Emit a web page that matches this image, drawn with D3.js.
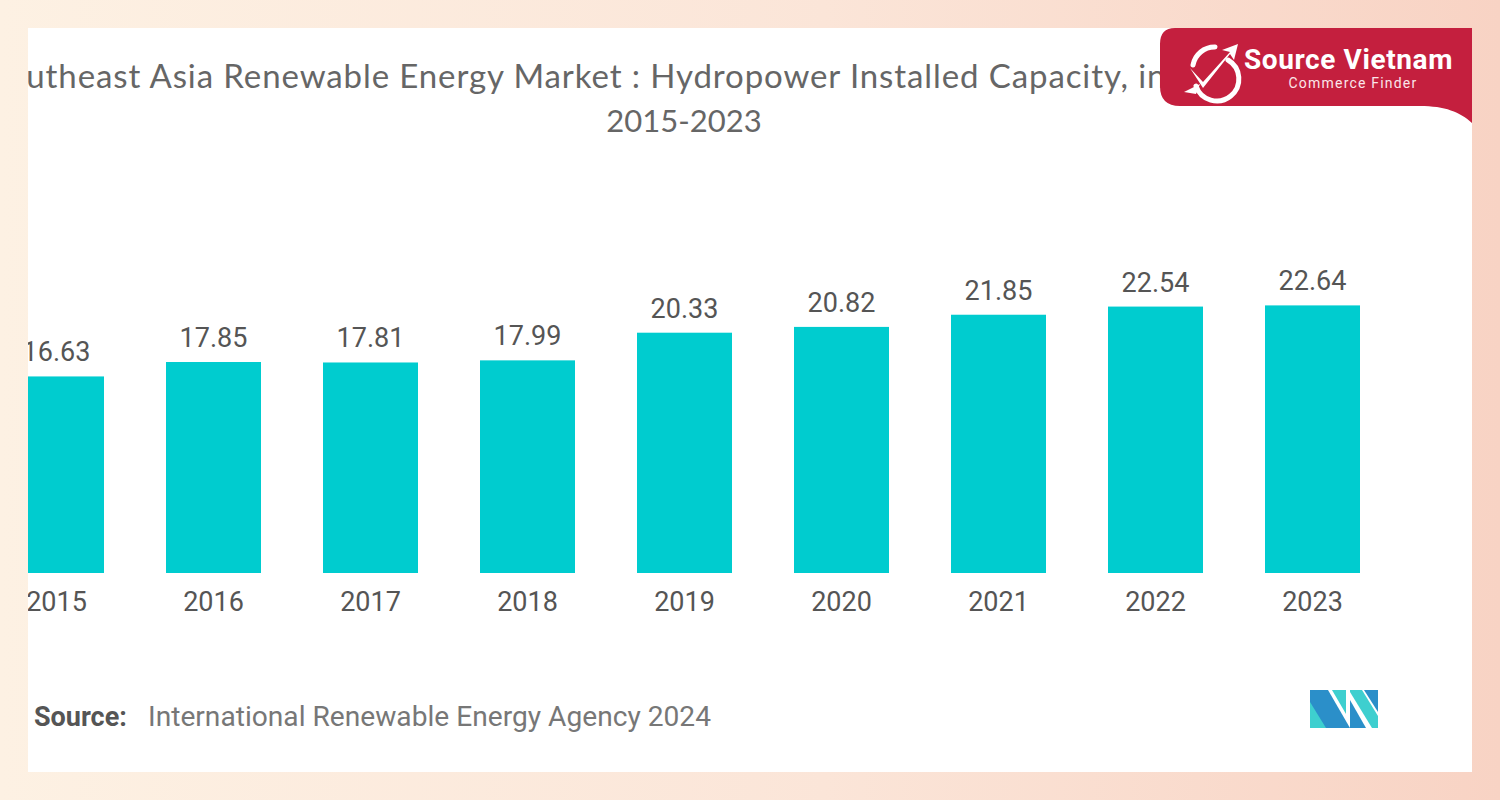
<!DOCTYPE html>
<html><head><meta charset="utf-8">
<script src="https://cdn.jsdelivr.net/npm/d3@7"></script>
<style>html,body{margin:0;padding:0;overflow:hidden;}</style>
</head><body>
<svg id="c" width="1500" height="800"></svg>
<script>
const years = ["2015","2016","2017","2018","2019","2020","2021","2022","2023"];
const capacity = [16.63,17.85,17.81,17.99,20.33,20.82,21.85,22.54,22.64];
const titleLine1 = "Southeast Asia Renewable Energy Market : Hydropower Installed Capacity, in GW,";
const titleLine2 = "2015-2023";
const sourceLabel = "Source:";
const sourceText = "International Renewable Energy Agency 2024";

const svg = d3.select("#c");
const defs = svg.append("defs");
const bg = defs.append("linearGradient").attr("id","bg").attr("x1","0").attr("x2","1").attr("y1","0").attr("y2","0");
bg.append("stop").attr("offset","0").attr("stop-color","#fdf1e3");
bg.append("stop").attr("offset","0.55").attr("stop-color","#fbe5d8");
bg.append("stop").attr("offset","1").attr("stop-color","#f8d3c4");
defs.append("clipPath").attr("id","card").append("rect").attr("x",28).attr("y",28).attr("width",1444).attr("height",744);

svg.append("rect").attr("width",1500).attr("height",800).attr("fill","url(#bg)");
svg.append("rect").attr("x",28).attr("y",28).attr("width",1444).attr("height",744).attr("fill","#ffffff");

const g = svg.append("g").attr("clip-path","url(#card)");

// title
g.append("text").attr("x",-12).attr("y",88).attr("font-family","Lato, 'Open Sans', sans-serif")
  .attr("font-size",33).attr("letter-spacing",0.9).attr("fill","#666").text(titleLine1);
g.append("text").attr("x",684).attr("y",132).attr("text-anchor","middle").attr("font-family","Lato, 'Open Sans', sans-serif")
  .attr("font-size",31).attr("fill","#666").text(titleLine2);

const x = d3.scaleBand().domain(years).range([-22,1391]).paddingInner(62/157).paddingOuter(31/157);
const y = d3.scaleLinear().domain([0,24]).range([573,573-24*11.82]);

g.selectAll("rect.bar").data(years).join("rect").attr("class","bar")
  .attr("x",d=>x(d)).attr("width",x.bandwidth())
  .attr("y",(d,i)=>y(capacity[i])).attr("height",(d,i)=>y(0)-y(capacity[i]))
  .attr("fill","#00cccf");

g.selectAll("text.val").data(years).join("text").attr("class","val")
  .attr("x",d=>x(d)+x.bandwidth()/2).attr("y",(d,i)=>y(capacity[i])-15)
  .attr("text-anchor","middle").attr("font-family","Roboto, sans-serif").attr("font-size",27)
  .attr("fill","#555").text((d,i)=>capacity[i].toFixed(2));

const xAxis = g.append("g").attr("transform","translate(0,573)").call(d3.axisBottom(x).tickSize(0).tickPadding(19));
xAxis.select(".domain").remove();
xAxis.selectAll("text").attr("font-family","Roboto, sans-serif").attr("font-size",27).attr("fill","#555");

// source
g.append("text").attr("x",34).attr("y",726).attr("font-family","'Liberation Sans Narrow', Roboto, sans-serif")
  .attr("font-size",27).attr("fill","#555").attr("font-weight","bold").text(sourceLabel);
g.append("text").attr("x",148).attr("y",726).attr("font-family","'Liberation Sans Narrow', Roboto, sans-serif")
  .attr("font-size",27).attr("fill","#777").attr("textLength",563).attr("lengthAdjust","spacingAndGlyphs").text(sourceText);

// MI logo
const logo = g.append("g").attr("transform","translate(1310,690)");
logo.append("path").attr("d","M0,0 L18,0 L40,38 L22,38 L22,38 L0,38 Z").attr("fill","#2b8fc9");
logo.append("path").attr("d","M0,12 L16,38 L0,38 Z").attr("fill","#3ecfcf");
logo.append("path").attr("d","M22,0 L36,0 L36,24 Z").attr("fill","#3ecfcf");
logo.append("path").attr("d","M40,0 L52,0 L68,26 L68,38 L62,38 L40,2 Z").attr("fill","#3ecfcf");
logo.append("path").attr("d","M54,0 L68,0 L68,22 Z").attr("fill","#2b8fc9");
logo.append("path").attr("d","M40,10 L56,38 L40,38 Z").attr("fill","#2b8fc9");

// badge
const badge = svg.append("g");
badge.append("path").attr("d","M1175,28 L1472,28 L1472,123 C1460,112 1445,106 1420,106 L1180,106 Q1160,106 1160,86 L1160,44 Q1160,28 1175,28 Z")
  .attr("fill","#c41f3e");
// icon
const ic = badge.append("g").attr("fill","none").attr("stroke","#fff").attr("stroke-width",5).attr("stroke-linecap","round");
ic.append("path").attr("d","M1228,60 A22,22 0 1 1 1196,86");
ic.append("path").attr("d","M1193,65 A22,22 0 0 1 1215,47");
badge.append("path").attr("d","M1190,68 L1203,82 L1230,52 L1222,50 L1238,44 L1234,60 L1230,54 L1203,88 Z").attr("fill","#fff");
badge.append("path").attr("d","M1184,92 L1200,84 L1196,94 Z").attr("fill","#fff");
badge.append("text").attr("x",1244).attr("y",69).attr("font-family","Roboto, sans-serif").attr("font-weight","bold")
  .attr("font-size",28).attr("letter-spacing",0.6).attr("fill","#fff").text("Source Vietnam");
badge.append("text").attr("x",1353).attr("y",88).attr("text-anchor","middle").attr("font-family","Roboto, sans-serif")
  .attr("font-size",14).attr("letter-spacing",1.2).attr("fill","#fbe6ea").text("Commerce Finder");
</script>
</body></html>
